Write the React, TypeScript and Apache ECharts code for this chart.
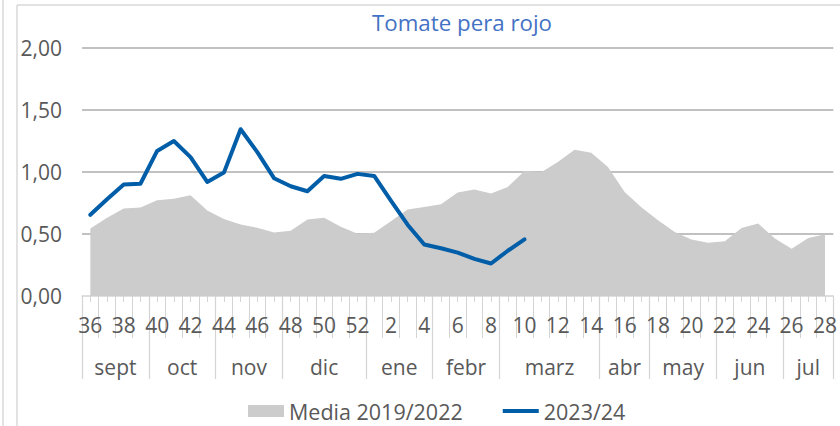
import React, { useEffect, useRef } from "react";
import * as echarts from "echarts";

// Week numbers (season runs from week 36 to week 28 of the next year)
const weeks = [
  36, 37, 38, 39, 40, 41, 42, 43, 44, 45, 46, 47, 48, 49, 50, 51, 52,
  1, 2, 3, 4, 5, 6, 7, 8, 9, 10, 11, 12, 13, 14, 15, 16, 17, 18, 19, 20,
  21, 22, 23, 24, 25, 26, 27, 28,
];

// Media 2019/2022 (grey area)
const media = [
  0.545, 0.632, 0.705, 0.713, 0.772, 0.785, 0.812, 0.69, 0.62, 0.577, 0.55,
  0.513, 0.527, 0.617, 0.632, 0.558, 0.502, 0.51, 0.603, 0.698, 0.718, 0.74,
  0.835, 0.858, 0.826, 0.879, 1.008, 0.998, 1.081, 1.18, 1.156, 1.04, 0.839,
  0.715, 0.61, 0.516, 0.455, 0.43, 0.441, 0.548, 0.584, 0.463, 0.382, 0.468,
  0.498,
];

// 2023/24 (blue line), up to week 10
const season2324 = [
  0.655, 0.78, 0.9, 0.905, 1.17, 1.25, 1.12, 0.92, 0.995, 1.345, 1.16, 0.95,
  0.885, 0.845, 0.968, 0.945, 0.985, 0.968, 0.77, 0.575, 0.415, 0.385, 0.35,
  0.3, 0.262, 0.365, 0.457,
];

// Month groups (second level of the category axis)
const months = ["sept", "oct", "nov", "dic", "ene", "febr", "marz", "abr", "may", "jun", "jul"];
const monthWeekCounts = [4, 4, 4, 5, 4, 4, 6, 3, 4, 4, 3];

const seriesNames = ["Media 2019/2022", "2023/24"];
const titleText = "Tomate pera rojo";

const FONT = "'Open Sans', sans-serif";
const TEXT_COLOR = "#595959";
const LIGHT = "#D4D4D4";

export default function App() {
  const ref = useRef<HTMLDivElement>(null);

  useEffect(() => {
    if (!ref.current) return;
    const chart = echarts.init(ref.current, null, { renderer: "svg" });

    // half-week slot axis used to draw the month row
    const nSlots = weeks.length * 2 + 1;
    const slots = Array.from({ length: nSlots }, (_, i) => String(i));
    const boundarySet = new Set<number>();
    const centerLabel: Record<number, string> = {};
    let start = 0;
    boundarySet.add(0);
    months.forEach((m, i) => {
      const c = monthWeekCounts[i];
      centerLabel[start * 2 + c] = m;
      start += c;
      boundarySet.add(start * 2);
    });

    const lineData = weeks.map((_, i) =>
      i < season2324.length ? season2324[i] : null
    );

    const option: any = {
      animation: false,
      backgroundColor: "#ffffff",
      textStyle: { fontFamily: FONT },
      title: {
        text: titleText,
        left: 372,
        top: 11,
        padding: 0,
        textStyle: {
          color: "#4472C4",
          fontSize: 22.3,
          fontWeight: "normal",
          fontFamily: FONT,
          lineHeight: 22,
        },
      },
      legend: {
        left: 248,
        top: 400,
        padding: 0,
        itemWidth: 36,
        itemHeight: 12,
        itemGap: 40,
        textStyle: {
          color: TEXT_COLOR,
          fontSize: 21.5,
          fontFamily: FONT,
          lineHeight: 21,
        },
        data: [
          { name: seriesNames[0], icon: "rect" },
          { name: seriesNames[1], icon: "path://M0 0H38V4H0Z" },
        ],
      },
      grid: { left: 82, right: 6, top: 48, bottom: 130, containLabel: false },
      xAxis: [
        {
          type: "category",
          position: "bottom",
          data: weeks.map(String),
          boundaryGap: true,
          axisLine: { show: true, lineStyle: { color: LIGHT, width: 1.5 } },
          axisTick: {
            show: true,
            interval: 0,
            length: 42,
            lineStyle: { color: LIGHT, width: 1 },
          },
          axisLabel: {
            interval: 1,
            color: TEXT_COLOR,
            fontSize: 21,
            fontFamily: FONT,
            lineHeight: 21,
            margin: 18,
          },
          splitLine: { show: false },
        },
        {
          type: "category",
          position: "bottom",
          data: weeks.map(String),
          boundaryGap: true,
          axisLine: { show: false },
          axisTick: {
            show: true,
            interval: 0,
            alignWithLabel: true,
            length: 6,
            lineStyle: { color: LIGHT, width: 1 },
          },
          axisLabel: { show: false },
          splitLine: { show: false },
        },
        {
          type: "category",
          position: "bottom",
          data: slots,
          boundaryGap: false,
          axisLine: { show: false },
          axisTick: {
            show: true,
            interval: (index: number) => boundarySet.has(index),
            length: 83,
            lineStyle: { color: LIGHT, width: 1.2 },
          },
          axisLabel: {
            show: true,
            interval: (index: number) => centerLabel[index] !== undefined,
            formatter: (_v: string, index: number) => centerLabel[index] ?? "",
            color: TEXT_COLOR,
            fontSize: 21,
            fontFamily: FONT,
            lineHeight: 21,
            margin: 60,
          },
          splitLine: { show: false },
        },
      ],
      yAxis: {
        type: "value",
        min: 0,
        max: 2,
        interval: 0.5,
        axisLine: { show: false },
        axisTick: { show: false },
        axisLabel: {
          color: TEXT_COLOR,
          fontSize: 21,
          fontFamily: FONT,
          margin: 20,
          formatter: (v: number) => v.toFixed(2).replace(".", ","),
        },
        splitLine: {
          show: true,
          lineStyle: {
            color: ["rgba(0,0,0,0)", "#ADADAD", "#ADADAD", "#ADADAD", "#ADADAD"],
            width: 1.5,
          },
        },
      },
      series: [
        {
          name: seriesNames[0],
          type: "line",
          data: media,
          symbol: "none",
          showSymbol: false,
          itemStyle: { color: "#CCCCCC" },
          lineStyle: { width: 0, color: "#CCCCCC" },
          areaStyle: { color: "#CCCCCC", opacity: 1 },
          z: 2,
        },
        {
          name: seriesNames[1],
          type: "line",
          data: lineData,
          symbol: "none",
          showSymbol: false,
          connectNulls: false,
          itemStyle: { color: "#005DA8" },
          lineStyle: { width: 4, color: "#005DA8", join: "round", cap: "round" },
          z: 3,
        },
      ],
      graphic: [
        {
          type: "line",
          shape: { x1: 3, y1: 0, x2: 3, y2: 426 },
          style: { stroke: "#D9D9D9", lineWidth: 1.5 },
          silent: true,
        },
        {
          type: "line",
          shape: { x1: 17, y1: 5, x2: 17, y2: 426 },
          style: { stroke: "#D9D9D9", lineWidth: 1.5 },
          silent: true,
        },
        {
          type: "line",
          shape: { x1: 17, y1: 5, x2: 840, y2: 5 },
          style: { stroke: "#D9D9D9", lineWidth: 1.5 },
          silent: true,
        },
      ],
    };

    chart.setOption(option);
    return () => chart.dispose();
  }, []);

  return (
    <div
      ref={ref}
      style={{
        position: "fixed",
        left: 0,
        top: 0,
        width: 840,
        height: 426,
        background: "#ffffff",
      }}
    />
  );
}
